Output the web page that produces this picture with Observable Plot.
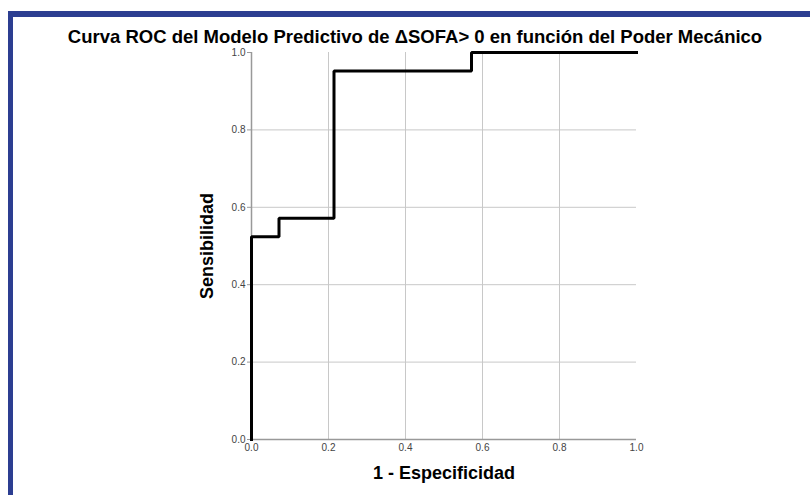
<!DOCTYPE html>
<html>
<head>
<meta charset="utf-8">
<script src="https://cdn.jsdelivr.net/npm/d3@7"></script>
<script src="https://cdn.jsdelivr.net/npm/@observablehq/plot@0.6"></script>
<style>
  html, body { margin: 0; padding: 0; background: #fff; }
  #wrap { position: relative; width: 810px; height: 495px; overflow: hidden; font-family: "Liberation Sans", Arial, sans-serif; }
  #frameL { position: absolute; left: 8px; top: 11px; width: 5px; height: 484px; background: #2c3e91; }
  #frameT { position: absolute; left: 8px; top: 11px; width: 802px; height: 6px; background: #2c3e91; }
  #title { position: absolute; left: 0; width: 830px; top: 28px; line-height: 18.5px; text-align: center; font-weight: bold; font-size: 18.5px; color: #000; white-space: nowrap; }
  #chart { position: absolute; left: 0; top: 0; }
</style>
</head>
<body>
<div id="wrap">
  <div id="chart"></div>
  <div id="frameL"></div>
  <div id="frameT"></div>
  <div id="title">Curva ROC del Modelo Predictivo de ΔSOFA&gt; 0 en función del Poder Mecánico</div>
</div>
<script>
// ROC curve vertices (1 - especificidad, sensibilidad)
const fpr = [0, 0, 1/14, 1/14, 3/14, 3/14, 8/14, 8/14, 1];
const tpr = [0, 11/21, 11/21, 12/21, 12/21, 20/21, 20/21, 1, 1];
const ticks = [0, 0.2, 0.4, 0.6, 0.8, 1.0];
const gridTicks = [0.2, 0.4, 0.6, 0.8];
const xLabel = "1 - Especificidad";
const yLabel = "Sensibilidad";

const data = fpr.map((x, i) => ({x, y: tpr[i]}));

const chart = Plot.plot({
  width: 810,
  height: 495,
  marginLeft: 251,
  marginRight: 174,
  marginTop: 52,
  marginBottom: 56,
  style: { fontFamily: "Liberation Sans, Arial, sans-serif", background: "transparent", overflow: "visible" },
  x: { domain: [0, 1] },
  y: { domain: [0, 1] },
  marks: [
    Plot.gridX(gridTicks, { stroke: "#c8c8c8", strokeOpacity: 1, strokeWidth: 1 }),
    Plot.gridY(gridTicks, { stroke: "#c8c8c8", strokeOpacity: 1, strokeWidth: 1 }),
    Plot.axisY(ticks, { tickFormat: d3.format(".1f"), tickSize: 4, tickPadding: 2, fontSize: 10, color: "#444", stroke: "#999", label: null }),
    Plot.axisX(ticks, { tickFormat: d3.format(".1f"), tickSize: 0, tickPadding: 4, fontSize: 10, color: "#444", label: null }),
    Plot.ruleX([0], { stroke: "#999", strokeWidth: 1.5 }),
    Plot.ruleY([0], { stroke: "#999", strokeWidth: 1.5 }),
    Plot.line(data, { x: "x", y: "y", stroke: "#000", strokeWidth: 3, strokeLinejoin: "miter", strokeLinecap: "square" }),
    Plot.text([xLabel], { frameAnchor: "bottom", lineAnchor: "middle", textAnchor: "middle", dy: 34, text: d => d, fontSize: 18, fontWeight: "bold", fill: "#000" }),
    Plot.text([yLabel], { frameAnchor: "left", lineAnchor: "middle", textAnchor: "middle", dx: -44, rotate: -90, text: d => d, fontSize: 18, fontWeight: "bold", fill: "#000" })
  ]
});
document.getElementById("chart").appendChild(chart);
</script>
</body>
</html>
